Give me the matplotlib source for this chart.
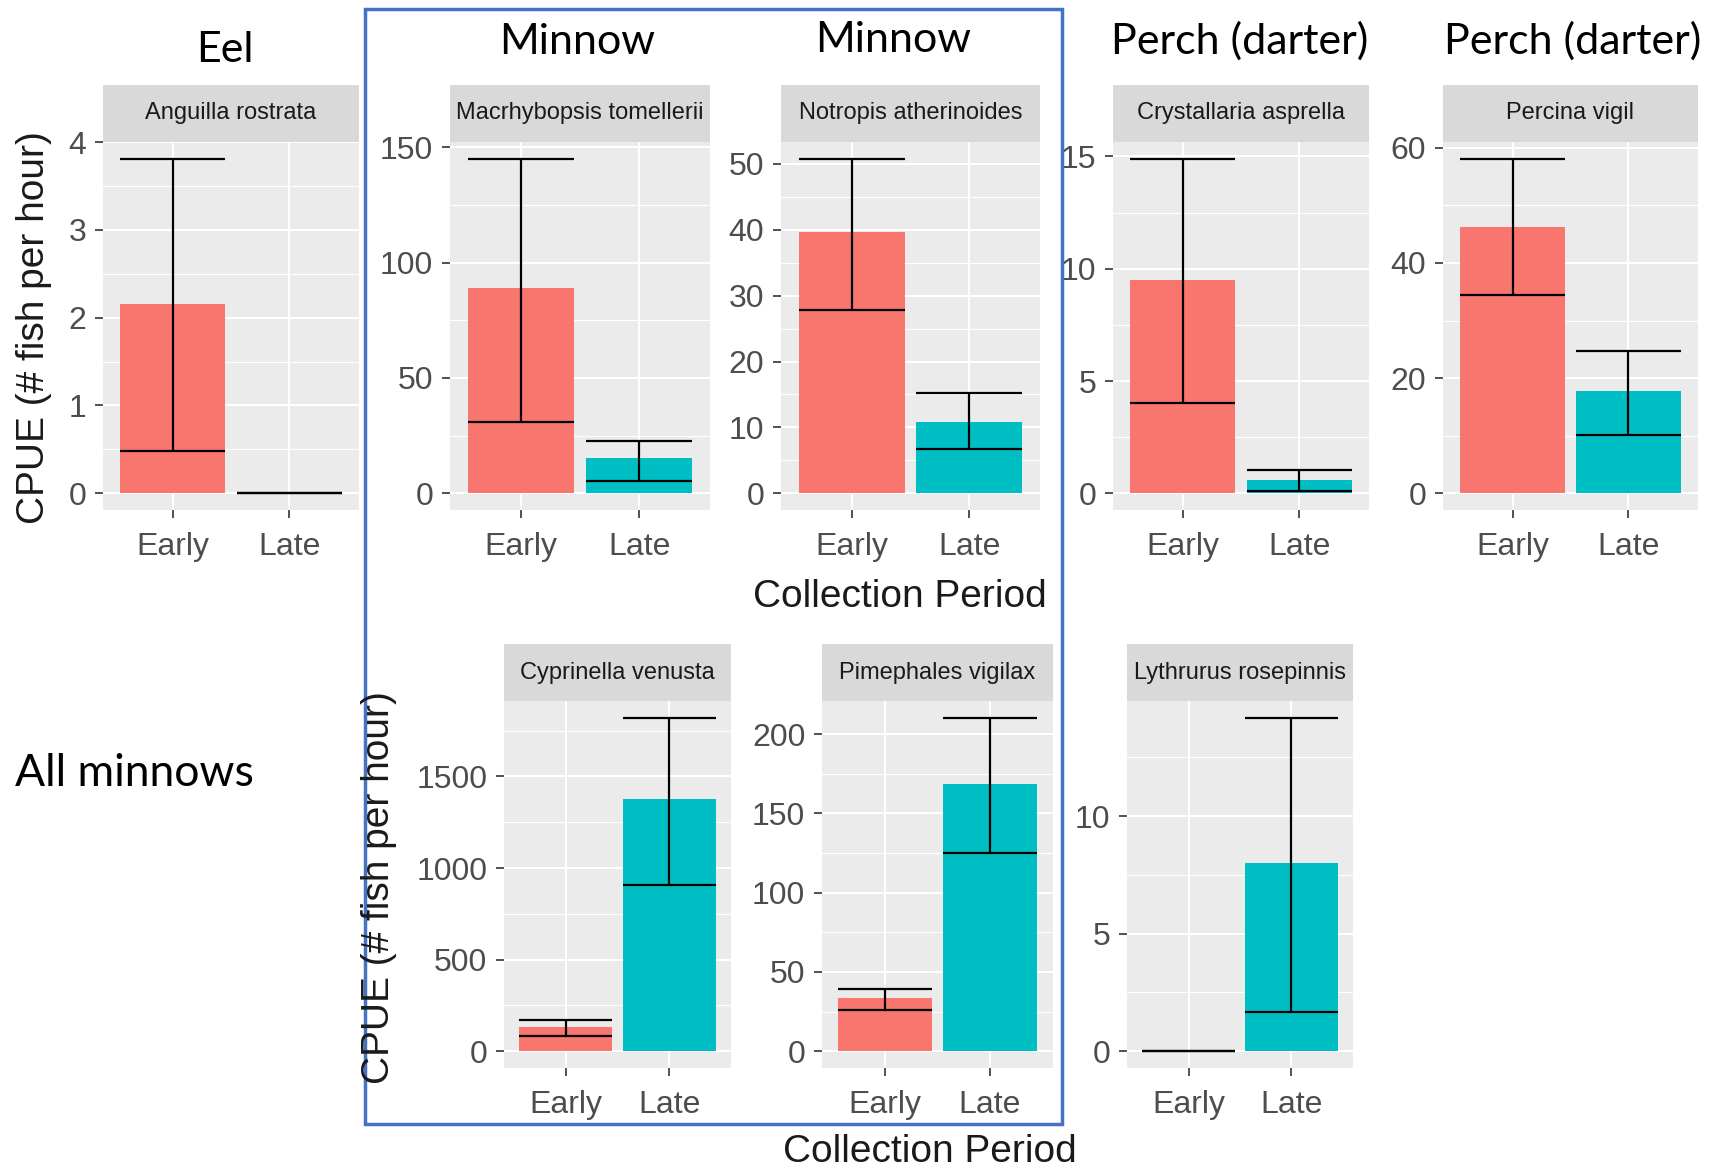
import matplotlib
matplotlib.use('Agg')
import matplotlib.pyplot as plt
from matplotlib.patches import Rectangle
import numpy as np

# species shown in each facet (top row then bottom row)
species = ['Anguilla rostrata', 'Macrhybopsis tomellerii', 'Notropis atherinoides',
           'Crystallaria asprella', 'Percina vigil',
           'Cyprinella venusta', 'Pimephales vigilax', 'Lythrurus rosepinnis']
periods = ['Early', 'Late']

# mean CPUE and error bar limits for each period
early_mean = [2.15, 89, 39.6, 9.5, 46.2, 132, 33.4, 0]
early_low = [0.48, 31, 27.8, 4.0, 34.5, 82, 26.2, 0]
early_high = [3.81, 145, 50.8, 14.9, 58.1, 170, 39.5, 0]
late_mean = [0, 15.3, 10.8, 0.6, 17.7, 1374, 168.8, 8.0]
late_low = [0, 5.3, 6.7, 0.09, 10.1, 907, 124.7, 1.66]
late_high = [0, 22.7, 15.2, 1.05, 24.7, 1820, 210.3, 14.18]

y_ticks = [[0, 1, 2, 3, 4], [0, 50, 100, 150], [0, 10, 20, 30, 40, 50],
           [0, 5, 10, 15], [0, 20, 40, 60], [0, 500, 1000, 1500],
           [0, 50, 100, 150, 200], [0, 5, 10]]

group_labels = ['Eel', 'Minnow', 'Minnow', 'Perch (darter)', 'Perch (darter)']

W, H = 1725, 1170
# panel boxes in pixels: left, right, strip top, panel top, panel bottom
boxes = [(103, 359, 85, 142, 510), (450, 710, 85, 142, 510), (781, 1040, 85, 142, 510),
         (1113, 1369, 85, 142, 510), (1443, 1698, 85, 142, 510),
         (504, 731, 644, 701, 1068), (822, 1053, 644, 701, 1068), (1127, 1353, 644, 701, 1068)]

fill_cols = ['#F8766D', '#00BFC4']
gg_font = 'Liberation Sans'

fig = plt.figure(figsize=(W / 100, H / 100), dpi=100)


def fbox(x0, x1, y0, y1):
    return [x0 / W, 1 - y1 / H, (x1 - x0) / W, (y1 - y0) / H]


for i, name in enumerate(species):
    x0, x1, ys, yt, yb = boxes[i]
    ax = fig.add_axes(fbox(x0, x1, yt, yb))
    ax.set_facecolor('#EBEBEB')
    for s in ax.spines.values():
        s.set_visible(False)

    xpos = np.arange(1, 3)
    means = [early_mean[i], late_mean[i]]
    lows = [early_low[i], late_low[i]]
    highs = [early_high[i], late_high[i]]

    ax.bar(xpos, means, width=0.9, color=fill_cols, zorder=2)
    ax.hlines(lows, xpos - 0.45, xpos + 0.45, color='black', lw=1.6, zorder=3)
    ax.hlines(highs, xpos - 0.45, xpos + 0.45, color='black', lw=1.6, zorder=3)
    ax.vlines(xpos, lows, highs, color='black', lw=1.6, zorder=3)

    tk = y_ticks[i]
    ax.set_yticks(tk)
    step = tk[1] - tk[0]
    minors = [t + step / 2 for t in [tk[0] - step] + tk]
    ax.set_yticks(minors, minor=True)
    ax.set_xticks(xpos)
    ax.set_xticklabels(periods)

    # ggplot style 5% expansion, set after the ticks so they don't widen it
    top = max(highs)
    pad = 0.05 * top
    ax.set_ylim(-pad, top + pad)
    ax.set_xlim(0.4, 2.6)

    ax.grid(which='major', color='white', lw=1.5, zorder=0)
    ax.grid(which='minor', axis='y', color='white', lw=0.8, zorder=0)
    ax.set_axisbelow(True)
    ax.tick_params(which='major', length=6, width=1.2, color='#333333',
                   labelcolor='#4D4D4D', labelsize=23)
    ax.tick_params(axis='x', pad=10)
    ax.tick_params(axis='y', pad=6)
    ax.tick_params(which='minor', length=0)
    for lab in ax.get_xticklabels() + ax.get_yticklabels():
        lab.set_fontfamily(gg_font)

    # facet strip
    sax = fig.add_axes(fbox(x0, x1, ys, yt))
    sax.set_facecolor('#D9D9D9')
    sax.set_xticks([])
    sax.set_yticks([])
    for s in sax.spines.values():
        s.set_visible(False)
    sax.text(0.5, 0.5, name, ha='center', va='center', fontsize=17,
             color='#1A1A1A', family=gg_font, transform=sax.transAxes, clip_on=True)

# axis titles
fig.text(34 / W, 1 - 328 / H, 'CPUE (# fish per hour)', rotation=90, ha='center',
         va='center', fontsize=28, color='#1A1A1A', family=gg_font)
fig.text(379 / W, 1 - 888 / H, 'CPUE (# fish per hour)', rotation=90, ha='center',
         va='center', fontsize=28, color='#1A1A1A', family=gg_font)
fig.text(900 / W, 1 - 597 / H, 'Collection Period', ha='center', va='center',
         fontsize=28, color='#1A1A1A', family=gg_font)
fig.text(930 / W, 1 - 1152 / H, 'Collection Period', ha='center', va='center',
         fontsize=28, color='#1A1A1A', family=gg_font)

# group annotations
label_x = [225, 577, 893, 1240, 1573]
label_y = [50, 42, 40, 41, 41]
for lx, ly, g in zip(label_x, label_y, group_labels):
    fig.text(lx / W, 1 - ly / H, g, ha='center', va='center', fontsize=31,
             color='black', family='Lato')
fig.text(15 / W, 1 - 774 / H, 'All minnows', ha='left', va='center', fontsize=32,
         color='black', family='Lato')

# blue box round the minnow panels
fig.add_artist(Rectangle((365 / W, 1 - 1124 / H), (1062 - 365) / W, (1124 - 9) / H,
                         transform=fig.transFigure, fill=False,
                         edgecolor='#4472C4', lw=2.5))

fig.savefig('out.png', dpi=100, facecolor='white')
